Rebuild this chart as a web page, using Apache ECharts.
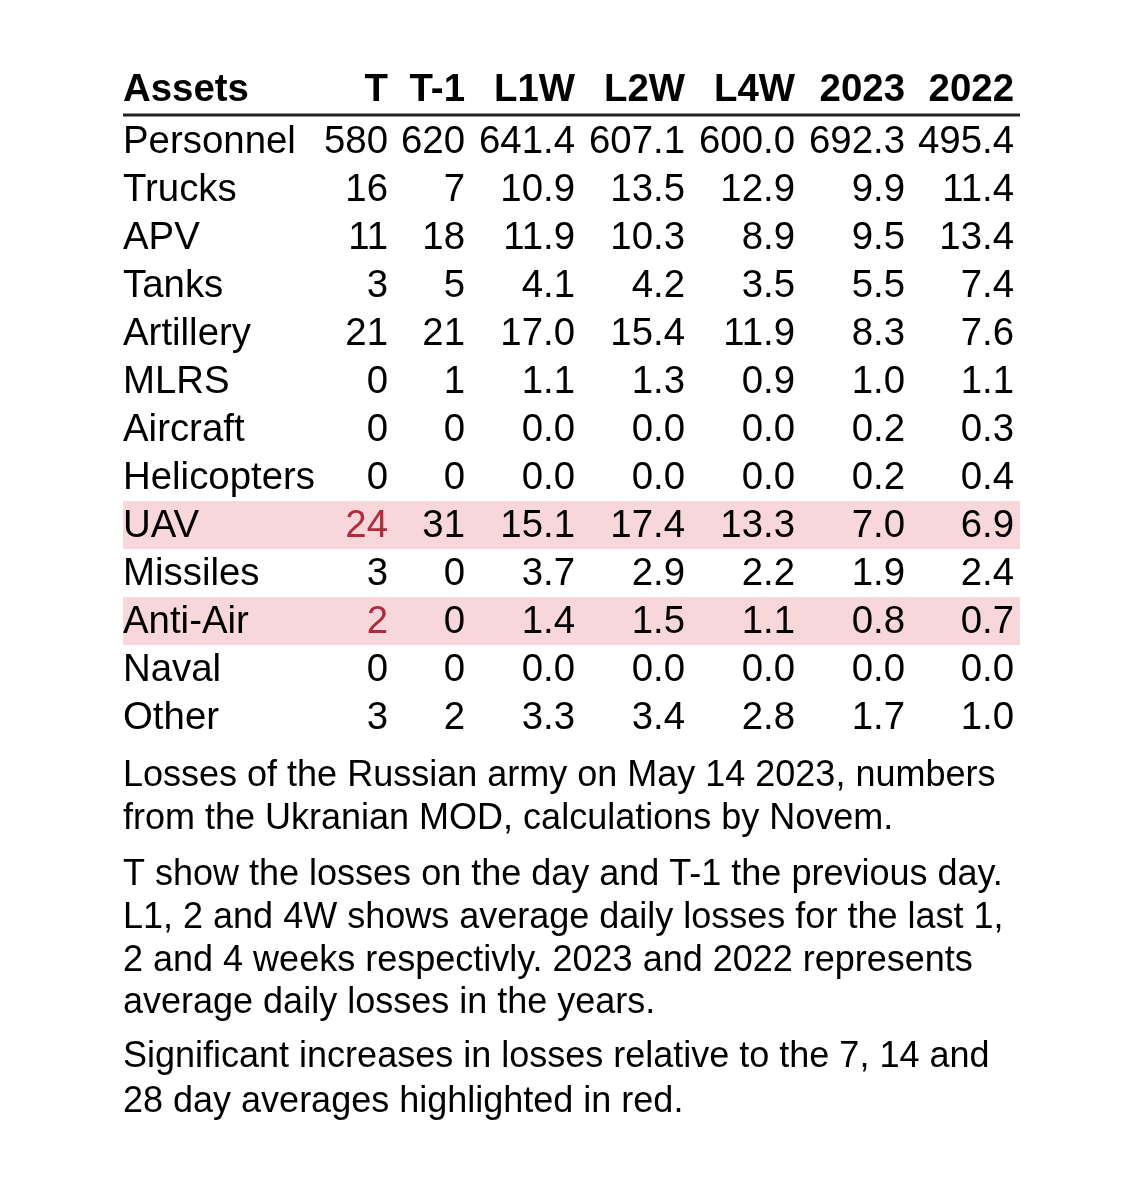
<!DOCTYPE html>
<html>
<head>
<meta charset="utf-8">
<script src="https://cdn.jsdelivr.net/npm/echarts@6/dist/echarts.min.js"></script>
<style>
html,body{margin:0;padding:0;background:#fff;}
#chart{width:1140px;height:1182px;}
</style>
</head>
<body>
<div id="chart"></div>
<script>
const columns = ['Assets', 'T', 'T-1', 'L1W', 'L2W', 'L4W', '2023', '2022'];
const assets = ['Personnel', 'Trucks', 'APV', 'Tanks', 'Artillery', 'MLRS', 'Aircraft', 'Helicopters', 'UAV', 'Missiles', 'Anti-Air', 'Naval', 'Other'];
const lossT   = [580, 16, 11, 3, 21, 0, 0, 0, 24, 3, 2, 0, 3];
const lossT1  = [620, 7, 18, 5, 21, 1, 0, 0, 31, 0, 0, 0, 2];
const avgL1W  = [641.4, 10.9, 11.9, 4.1, 17.0, 1.1, 0.0, 0.0, 15.1, 3.7, 1.4, 0.0, 3.3];
const avgL2W  = [607.1, 13.5, 10.3, 4.2, 15.4, 1.3, 0.0, 0.0, 17.4, 2.9, 1.5, 0.0, 3.4];
const avgL4W  = [600.0, 12.9, 8.9, 3.5, 11.9, 0.9, 0.0, 0.0, 13.3, 2.2, 1.1, 0.0, 2.8];
const avg2023 = [692.3, 9.9, 9.5, 5.5, 8.3, 1.0, 0.2, 0.2, 7.0, 1.9, 0.8, 0.0, 1.7];
const avg2022 = [495.4, 11.4, 13.4, 7.4, 7.6, 1.1, 0.3, 0.4, 6.9, 2.4, 0.7, 0.0, 1.0];
const highlightedRows = ['UAV', 'Anti-Air'];
const highlightedCells = [['UAV', 'T'], ['Anti-Air', 'T']];
const notes = [
  'Losses of the Russian army on May 14 2023, numbers\nfrom the Ukranian MOD, calculations by Novem.',
  'T show the losses on the day and T-1 the previous day.\nL1, 2 and 4W shows average daily losses for the last 1,\n2 and 4 weeks respectivly. 2023 and 2022 represents\naverage daily losses in the years.',
  'Significant increases in losses relative to the 7, 14 and\n28 day averages highlighted in red.'
];

// layout (not data)
const TABLE_W = 897;
const colRight = [0, 265, 342, 452, 562, 672, 782, 891];
const FONT = '"Liberation Sans", Arial, Helvetica, sans-serif';
const FS = 38.4;
const RED = '#b22a3b';
const PINK = '#f8d7da';

const valueCols = [lossT, lossT1, avgL1W, avgL2W, avgL4W, avg2023, avg2022];
const decimals = [0, 0, 1, 1, 1, 1, 1];

// cell data: [colIndex, rowIndex, text, isHeader, isRed]
const cells = [];
columns.forEach((c, ci) => cells.push([ci, -1, c, 1, 0]));
assets.forEach((a, ri) => {
  cells.push([0, ri, a, 0, 0]);
  valueCols.forEach((arr, k) => {
    const col = columns[k + 1];
    const red = highlightedCells.some(h => h[0] === a && h[1] === col) ? 1 : 0;
    cells.push([k + 1, ri, arr[ri].toFixed(decimals[k]), 0, red]);
  });
});
const bands = assets.map((a, ri) => [ri, highlightedRows.indexOf(a) >= 0 ? 1 : 0]).filter(d => d[1]);

const noteStyle = {fontFamily: FONT, fontSize: 36, fontWeight: 'normal', color: '#000'};

const chart = echarts.init(document.getElementById('chart'), null, {renderer: 'canvas'});
chart.setOption({
  backgroundColor: '#ffffff',
  animation: false,
  grid: {left: 123, top: 69, width: TABLE_W, height: 14 * 48},
  xAxis: {type: 'value', min: 0, max: TABLE_W, show: false},
  yAxis: {type: 'value', min: -1, max: 13, inverse: true, show: false},
  title: [
    {text: notes[0], left: 123, top: 755, padding: 0, textStyle: Object.assign({lineHeight: 42.5}, noteStyle)},
    {text: notes[1], left: 123, top: 854, padding: 0, textStyle: Object.assign({lineHeight: 42.7}, noteStyle)},
    {text: notes[2], left: 123, top: 1035, padding: 0, textStyle: Object.assign({lineHeight: 45}, noteStyle)}
  ],
  series: [
    {
      type: 'custom',
      data: bands,
      renderItem: function (params, api) {
        const r = api.value(0);
        const p0 = api.coord([0, r]);
        const p1 = api.coord([TABLE_W, r + 1]);
        return {type: 'rect', shape: {x: p0[0], y: p0[1], width: p1[0] - p0[0], height: p1[1] - p0[1]}, style: {fill: PINK}};
      },
      z: 1
    },
    {
      type: 'custom',
      data: [[0]],
      renderItem: function (params, api) {
        const p0 = api.coord([0, 0]);
        const p1 = api.coord([TABLE_W, 0]);
        return {type: 'line', shape: {x1: p0[0], y1: p0[1] - 2, x2: p1[0], y2: p1[1] - 2}, style: {stroke: '#222', lineWidth: 3}};
      },
      z: 2
    },
    {
      type: 'custom',
      data: cells,
      renderItem: function (params, api) {
        const ci = api.value(0);
        const ri = api.value(1);
        const text = cells[params.dataIndex][2];
        const header = cells[params.dataIndex][3];
        const red = cells[params.dataIndex][4];
        const p = api.coord([colRight[ci], ri + 0.5]);
        return {
          type: 'text',
          style: {
            text: text,
            x: p[0],
            y: p[1] + (header ? -3 : 1),
            align: ci === 0 ? 'left' : 'right',
            verticalAlign: 'middle',
            font: (header ? 'bold ' : '') + FS + 'px ' + FONT,
            fill: red ? RED : '#000'
          }
        };
      },
      z: 3
    }
  ]
});
</script>
</body>
</html>
